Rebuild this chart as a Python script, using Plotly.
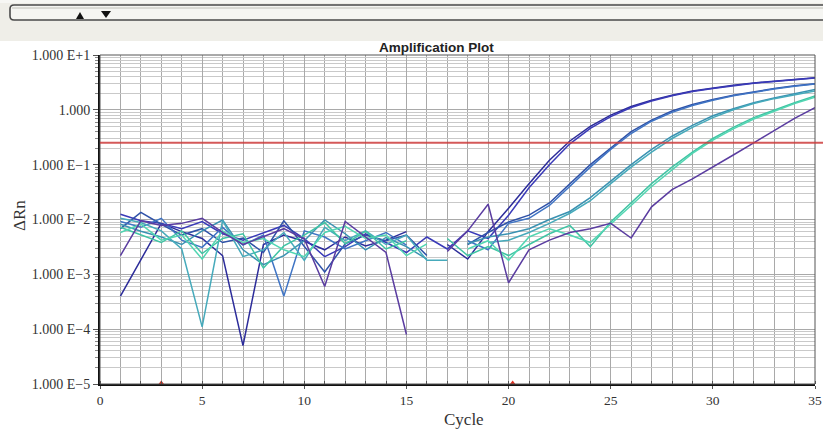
import plotly.graph_objects as go

# ---- data -------------------------------------------------------------
cycles = list(range(1, 36))

well_a1 = [0.0004, 0.0018, 0.0085, 0.006, 0.0045, 0.0022, 0.00005, 0.0035, 0.0052, 0.004,
           0.0028, 0.0048, 0.0033, 0.0042, 0.006, None, 0.0035, 0.0019, 0.006, 0.016,
           0.045, 0.12, 0.27, 0.5, 0.8, 1.15, 1.5, 1.85, 2.2, 2.5,
           2.8, 3.1, 3.35, 3.6, 3.85]
well_a2 = [0.0125, 0.0095, 0.0085, 0.0068, 0.0092, 0.0055, 0.0042, 0.0058, 0.0078, 0.0045,
           0.0021, 0.0032, 0.0055, 0.0038, 0.0025, 0.0048, 0.0029, 0.0062, 0.0045, 0.012,
           0.038, 0.1, 0.24, 0.46, 0.75, 1.1, 1.45, 1.8, 2.15, 2.45,
           2.75, 3.05, 3.3, 3.55, 3.8]
well_b1 = [0.0068, 0.0135, 0.0082, 0.0052, 0.0068, 0.0038, 0.0046, 0.0025, 0.0095, 0.0032,
           0.0011, 0.0036, 0.0052, 0.0041, 0.0052, 0.0022, None, 0.0035, 0.0058, 0.009,
           0.012, 0.02, 0.045, 0.1, 0.2, 0.4, 0.65, 0.95, 1.25, 1.55,
           1.85, 2.15, 2.45, 2.75, 3.0]
well_b2 = [0.0092, 0.0072, 0.0105, 0.0042, 0.0031, 0.0072, 0.0034, 0.0052, 0.0004, 0.0062,
           0.0048, 0.0029, 0.0041, 0.0058, 0.0034, None, None, 0.0041, 0.0028, 0.0085,
           0.0105, 0.018, 0.04, 0.09, 0.19, 0.37, 0.62, 0.9, 1.2, 1.5,
           1.8, 2.1, 2.4, 2.7, 2.95]
well_c1 = [0.0082, 0.0061, 0.0048, 0.0035, 0.0062, 0.0098, 0.0028, 0.0015, 0.0022, 0.0041,
           0.0098, 0.0055, 0.0028, 0.0047, 0.0032, 0.0019, None, 0.0036, 0.0048, 0.0055,
           0.0068, 0.01, 0.014, 0.025, 0.05, 0.1, 0.19, 0.33, 0.52, 0.78,
           1.05, 1.35, 1.65, 1.95, 2.35]
well_c2 = [0.0105, 0.0088, 0.0062, 0.0029, 0.00011, 0.0095, 0.0021, 0.0028, 0.0058, 0.0018,
           0.0072, 0.0041, 0.0062, 0.0035, 0.0052, 0.0018, 0.0018, None, 0.0038, 0.0042,
           0.0058, 0.0085, 0.013, 0.022, 0.045, 0.09, 0.17, 0.3, 0.48, 0.72,
           1.0, 1.3, 1.6, 1.9, 2.2]
well_d1 = [0.0072, 0.0052, 0.0038, 0.0062, 0.0024, 0.0045, 0.0055, 0.0013, 0.0033, 0.0052,
           0.0088, 0.0036, 0.0061, 0.0029, 0.0041, None, 0.0045, 0.0022, 0.0032, 0.0022,
           0.0035, 0.0055, 0.0078, 0.0032, 0.009, 0.02, 0.045, 0.09, 0.17, 0.3,
           0.48, 0.72, 1.0, 1.35, 1.8]
well_d2 = [0.0058, 0.0082, 0.0042, 0.0052, 0.0019, 0.0062, 0.0038, 0.0045, 0.0028, 0.0021,
           0.0058, 0.0075, 0.0045, 0.0052, 0.0022, 0.0036, None, 0.0029, 0.0041, 0.0018,
           0.0048, 0.0068, 0.0052, 0.0038, 0.0082, 0.018, 0.04, 0.08, 0.16, 0.28,
           0.45, 0.68, 0.95, 1.3, 1.7]
well_e1 = [0.0022, 0.0095, 0.0078, 0.0085, 0.0105, 0.0058, 0.0035, 0.0048, 0.0068, 0.0044,
           0.0006, 0.0092, 0.0048, 0.0025, 0.00008, None, 0.0026, 0.0062, 0.019, 0.0007,
           0.0028, 0.0042, 0.0058, 0.0068, 0.0085, 0.0046, 0.017, 0.035, 0.055, 0.09,
           0.15, 0.25, 0.42, 0.7, 1.1]

wells = [well_a1, well_a2, well_b1, well_b2, well_c1, well_c2, well_d1, well_d2, well_e1]
well_colors = ["#2c2c9a", "#3a3ab8", "#2f52a8", "#3f74c4", "#3a92b2",
               "#46aabb", "#40c4a4", "#52d6b2", "#5a3ca0"]

threshold = 0.25
baseline_marks = [3, 20.2]

y_tickvals = [1e-5, 1e-4, 1e-3, 1e-2, 1e-1, 1, 10]
y_ticktext = ["1.000 E\u22125", "1.000 E\u22124", "1.000 E\u22123", "1.000 E\u22122",
              "1.000 E\u22121", "1.000", "1.000 E+1"]
x_tickvals = [0, 5, 10, 15, 20, 25, 30, 35]

# ---- geometry helpers (pixel -> paper) ---------------------------------
W, H = 823, 433
ML, MR, MT, MB = 100, 8, 55, 49
PW, PH = W - ML - MR, H - MT - MB


def px(x):
    return (x - ML) / PW


def py(y):
    return (H - MB - y) / PH


fig = go.Figure()

for vals, col in zip(wells, well_colors):
    fig.add_trace(go.Scatter(x=cycles, y=vals, mode="lines",
                             line=dict(color=col, width=1.5),
                             connectgaps=False, hoverinfo="skip", showlegend=False))

# baseline start / end markers on the cycle axis
fig.add_trace(go.Scatter(x=baseline_marks, y=[1e-5] * len(baseline_marks), mode="markers",
                         marker=dict(symbol="triangle-up", size=7, color="#e03020"),
                         cliponaxis=False, hoverinfo="skip", showlegend=False))

shapes = []
# toolbar strip across the top
shapes.append(dict(type="rect", xref="paper", yref="paper", x0=px(0), x1=px(W), y0=py(0), y1=py(41),
                   fillcolor="#efeee8", line=dict(width=0), layer="below"))
shapes.append(dict(type="rect", xref="paper", yref="paper", x0=px(0), x1=px(W), y0=py(0), y1=py(3),
                   fillcolor="#f7f7f4", line=dict(width=0), layer="below"))
path = (f"M {px(14)},{py(5)} L {px(W + 10)},{py(5)} L {px(W + 10)},{py(20)} "
        f"L {px(14)},{py(20)} Q {px(10)},{py(20)} {px(10)},{py(16)} L {px(10)},{py(9)} "
        f"Q {px(10)},{py(5)} {px(14)},{py(5)} Z")
shapes.append(dict(type="path", xref="paper", yref="paper", path=path,
                   fillcolor="#f5f5f2", line=dict(color="#4a4a4a", width=1.6)))
shapes.append(dict(type="line", xref="paper", yref="paper", x0=px(12), x1=px(W), y0=py(8), y1=py(8),
                   line=dict(color="#c0c0b8", width=1)))
# slider arrows
shapes.append(dict(type="path", xref="paper", yref="paper",
                   path=f"M {px(76)},{py(19)} L {px(84)},{py(19)} L {px(80)},{py(12)} Z",
                   fillcolor="#111111", line=dict(width=0)))
shapes.append(dict(type="path", xref="paper", yref="paper",
                   path=f"M {px(101)},{py(11)} L {px(111)},{py(11)} L {px(106)},{py(18)} Z",
                   fillcolor="#111111", line=dict(width=0)))
# plot frame (top / right)
shapes.append(dict(type="rect", xref="paper", yref="paper", x0=0, x1=1, y0=0, y1=1,
                   line=dict(color="#555555", width=1)))
# threshold line
shapes.append(dict(type="line", xref="paper", yref="y", x0=0, x1=px(W), y0=threshold, y1=threshold,
                   line=dict(color="rgba(205,60,60,0.85)", width=2)))

annotations = [
    dict(text="<b>Amplification Plot</b>", x=px(436), y=py(47), xref="paper", yref="paper",
         xanchor="center", yanchor="middle", showarrow=False,
         font=dict(family="Liberation Sans", size=13.5, color="#222222")),
    dict(text="Cycle", x=px(464), y=py(420), xref="paper", yref="paper",
         xanchor="center", yanchor="middle", showarrow=False,
         font=dict(family="Liberation Serif", size=17, color="#333333")),
    dict(text="\u0394Rn", x=px(19), y=py(216), xref="paper", yref="paper",
         xanchor="center", yanchor="middle", showarrow=False,
         textangle=-90, font=dict(family="Liberation Serif", size=17, color="#333333")),
]

grid_minor = [m * 10.0 ** d for d in range(-5, 1) for m in range(2, 10)]

fig.update_layout(
    width=W, height=H, autosize=False,
    margin=dict(l=ML, r=MR, t=MT, b=MB, pad=0, autoexpand=False),
    paper_bgcolor="white", plot_bgcolor="white",
    shapes=shapes, annotations=annotations,
    xaxis=dict(range=[0, 35], tickvals=x_tickvals, showgrid=True, gridcolor="#a9a9a9", gridwidth=1,
               automargin=False,
               minor=dict(dtick=1, showgrid=True, gridcolor="#a9a9a9", gridwidth=1,
                          ticks="inside", ticklen=3, tickcolor="#555555"),
               showline=True, linecolor="#111111", linewidth=2, ticks="outside", ticklen=3,
               tickcolor="#555555", zeroline=False,
               tickfont=dict(family="Liberation Serif", size=13.5, color="#333333")),
    yaxis=dict(type="log", range=[-5, 1], tickvals=y_tickvals, ticktext=y_ticktext,
               showgrid=True, gridcolor="#a9a9a9", gridwidth=1, automargin=False,
               minor=dict(tickvals=grid_minor, showgrid=True, gridcolor="#c9c9c9", gridwidth=1,
                          ticks="outside", ticklen=3, tickcolor="#888888"),
               showline=True, linecolor="#111111", linewidth=2, ticks="outside", ticklen=5,
               tickcolor="#555555", zeroline=False,
               tickfont=dict(family="Liberation Serif", size=14, color="#333333")),
)

fig.write_html("out.html", config={"responsive": False},
               default_width="823px", default_height="433px",
               post_script="document.body.style.margin='0';document.body.style.overflow='hidden';")
